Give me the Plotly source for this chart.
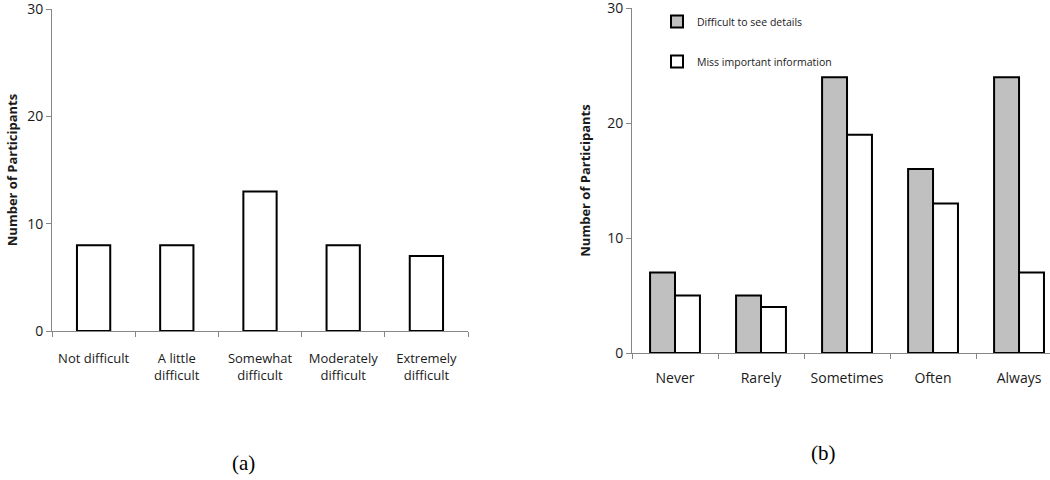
import plotly.graph_objects as go

# ---- data ----
cats_a = ["Not difficult", "A little<br>difficult", "Somewhat<br>difficult",
          "Moderately<br>difficult", "Extremely<br>difficult"]
vals_a = [8, 8, 13, 8, 7]

cats_b = ["Never", "Rarely", "Sometimes", "Often", "Always"]
details_b = [7, 5, 24, 16, 24]
missinfo_b = [5, 4, 19, 13, 7]

y_ticks = [0, 10, 20, 30]
y_title = "Number of Participants"
name_details = "Difficult to see details"
name_missinfo = "Miss important information"

W, H = 1050, 480
AX = "#868686"
TXT = "#1a1a1a"
FONT = "Open Sans"

fig = go.Figure()

fig.add_trace(go.Bar(x=cats_a, y=vals_a, xaxis="x", yaxis="y",
                     width=0.4, marker=dict(color="white", line=dict(color="black", width=2)),
                     showlegend=False))
fig.add_trace(go.Bar(x=cats_b, y=details_b, xaxis="x2", yaxis="y2", name=name_details,
                     width=0.29, offset=-0.29, legendgroup="g1",
                     marker=dict(color="#c0c0c0", line=dict(color="black", width=2))))
fig.add_trace(go.Bar(x=cats_b, y=missinfo_b, xaxis="x2", yaxis="y2", name=name_missinfo,
                     width=0.29, offset=0.0, legendgroup="g2",
                     marker=dict(color="white", line=dict(color="black", width=2))))

def px_x(p):
    return p / W

def px_y(p):
    return 1 - p / H

xa_common = dict(showline=True, linecolor=AX, linewidth=1, ticks="outside", tickcolor=AX,
                 ticklen=5, tickson="boundaries", showgrid=False, zeroline=False,
                 tickangle=0, fixedrange=True)
ya_common = dict(showline=True, linecolor=AX, linewidth=1, ticks="outside", tickcolor=AX,
                 ticklen=5, showgrid=False, zeroline=False, range=[0, 30.02],
                 tickvals=y_ticks, tickfont=dict(family=FONT, size=14, color=TXT),
                 ticklabeloverflow="allow", fixedrange=True)

fig.update_layout(
    width=W, height=H,
    margin=dict(l=0, r=0, t=0, b=0, autoexpand=False),
    paper_bgcolor="white", plot_bgcolor="white",
    barmode="overlay",
    xaxis=dict(domain=[px_x(52), px_x(468)], anchor="y", range=[-0.5, 4.5],
               tickfont=dict(family=FONT, size=13, color=TXT), ticklabelstandoff=15, **xa_common),
    yaxis=dict(domain=[px_y(331), px_y(9)], anchor="x",
               title=dict(text="<b>" + y_title + "</b>", font=dict(family=FONT, size=13, color=TXT),
                          standoff=6),
               **ya_common),
    xaxis2=dict(domain=[px_x(632), 1.0], anchor="y2", range=[-0.5, 4.36],
                tickfont=dict(family=FONT, size=14, color=TXT), ticklabelstandoff=12, **xa_common),
    yaxis2=dict(domain=[px_y(353), px_y(8)], anchor="x2",
                title=dict(text="<b>" + y_title + "</b>", font=dict(family=FONT, size=13, color=TXT),
                           standoff=13),
                **ya_common),
    legend=dict(x=px_x(657), y=px_y(7), xanchor="left", yanchor="top",
                font=dict(family=FONT, size=10.5, color=TXT), tracegroupgap=21,
                bgcolor="rgba(0,0,0,0)"),
    annotations=[
        dict(text="(a)", x=px_x(243), y=px_y(463), xref="paper", yref="paper",
             xanchor="center", yanchor="middle",
             showarrow=False, font=dict(family="Liberation Serif", size=21, color="black")),
        dict(text="(b)", x=px_x(823), y=px_y(453), xref="paper", yref="paper",
             xanchor="center", yanchor="middle",
             showarrow=False, font=dict(family="Liberation Serif", size=21, color="black")),
    ],
)

fig.write_html("out.html", config={"displayModeBar": False},
               post_script="document.body.style.margin='0';")
